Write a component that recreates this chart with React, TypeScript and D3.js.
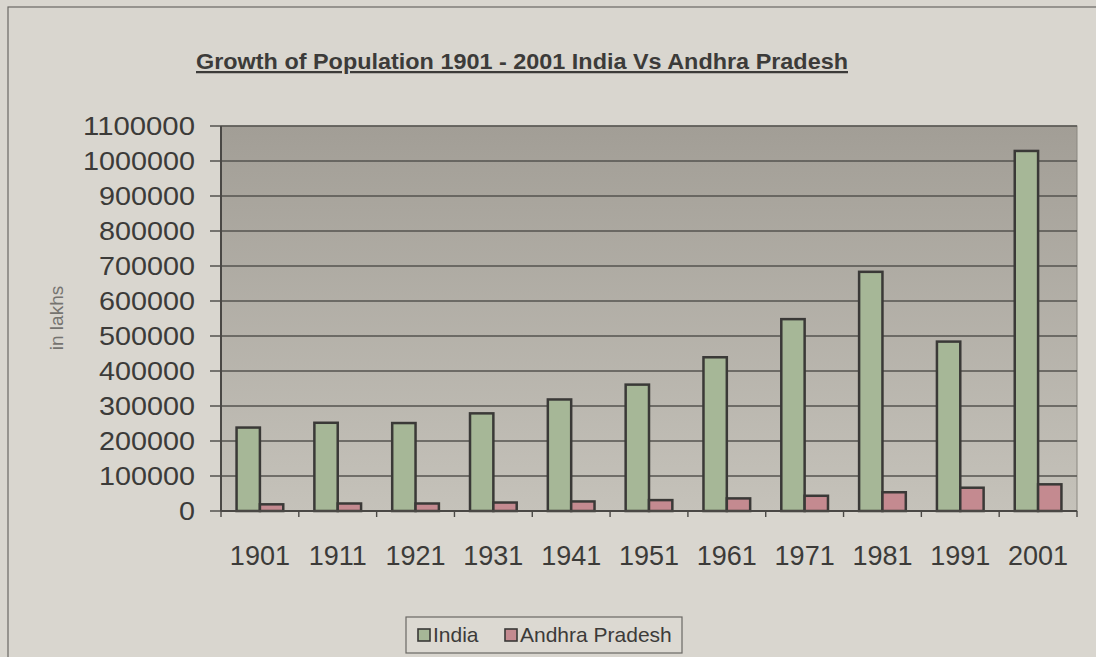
import React from "react";
import * as d3 from "d3";

const years = ["1901", "1911", "1921", "1931", "1941", "1951", "1961", "1971", "1981", "1991", "2001"];
const india = [238396, 252093, 251321, 278977, 318661, 361088, 439235, 548160, 683329, 484000, 1028737];
const andhra = [19066, 21448, 21421, 24204, 27289, 31115, 35983, 43503, 53550, 66508, 76210];
const seriesNames = ["India", "Andhra Pradesh"];
const yTicks = [0, 100000, 200000, 300000, 400000, 500000, 600000, 700000, 800000, 900000, 1000000, 1100000];
const titleText = "Growth of Population 1901 - 2001 India Vs Andhra Pradesh";
const yAxisTitle = "in lakhs";

const colors = ["#a6b797", "#c48a90"];

export default function App() {
  const W = 1096, H = 657;
  const left = 221, right = 1077, top = 126, bottom = 511;
  const x0 = d3.scaleBand<string>().domain(years).range([left, right]).paddingInner(0).paddingOuter(0);
  const bw = x0.bandwidth();
  const x1 = d3.scaleBand<string>().domain(seriesNames).range([bw * 0.2, bw * 0.8]);
  const y = d3.scaleLinear().domain([0, 1100000]).range([bottom, top]);
  const data = [india, andhra];
  const font = "'Liberation Sans', Arial, sans-serif";

  return (
    <svg width={W} height={H} style={{ position: "absolute", left: 0, top: 0 }} fontFamily={font}>
      <defs>
        <linearGradient id="plotbg" x1="0" y1="0" x2="0" y2="1">
          <stop offset="0%" stopColor="#a29e96" />
          <stop offset="100%" stopColor="#c5c2ba" />
        </linearGradient>
      </defs>
      <rect x={0} y={0} width={W} height={H} fill="#d9d6cf" />
      <rect x={8} y={7} width={W + 20} height={H + 20} fill="none" stroke="#6a6864" strokeWidth={1.2} />
      {/* title */}
      <text x={522} y={69} textAnchor="middle" fontSize={22.5} fontWeight="bold" fill="#3c3b39" textDecoration="underline"
        textLength={652} lengthAdjust="spacingAndGlyphs">
        {titleText}
      </text>
      {/* plot area */}
      <rect x={left} y={top} width={right - left} height={bottom - top} fill="url(#plotbg)" stroke="#8a8780" strokeWidth={1} />
      {yTicks.slice(1).map((t) => (
        <line key={"g" + t} x1={left} x2={right} y1={y(t)} y2={y(t)} stroke="#55534f" strokeWidth={1.4} />
      ))}
      {/* y axis */}
      <line x1={left} x2={left} y1={top} y2={bottom} stroke="#4a4845" strokeWidth={2} />
      {yTicks.map((t) => (
        <g key={"yt" + t}>
          <line x1={left - 11} x2={left} y1={y(t)} y2={y(t)} stroke="#4a4845" strokeWidth={1.4} />
          <text x={195} y={y(t)} dy="0.36em" textAnchor="end" fontSize={26} fill="#3c3b39"
            textLength={String(t).length * 16} lengthAdjust="spacingAndGlyphs">
            {t}
          </text>
        </g>
      ))}
      <text transform={`translate(63,${318}) rotate(-90)`} textAnchor="middle" fontSize={19} fill="#75736f">
        {yAxisTitle}
      </text>
      {/* bars */}
      {years.map((yr, i) => (
        <g key={yr} transform={`translate(${x0(yr)},0)`}>
          {seriesNames.map((s, k) => (
            <rect
              key={s}
              x={x1(s)}
              y={y(data[k][i])}
              width={x1.bandwidth()}
              height={bottom - y(data[k][i])}
              fill={colors[k]}
              stroke="#3a3937"
              strokeWidth={2.5}
            />
          ))}
        </g>
      ))}
      {/* x axis */}
      <line x1={left} x2={right} y1={bottom} y2={bottom} stroke="#4a4845" strokeWidth={2} />
      {years.map((yr) => (
        <line key={"xt" + yr} x1={x0(yr) as number} x2={x0(yr) as number} y1={bottom} y2={bottom + 6} stroke="#4a4845" strokeWidth={1.4} />
      ))}
      <line x1={right} x2={right} y1={bottom} y2={bottom + 6} stroke="#4a4845" strokeWidth={1.4} />
      {years.map((yr) => (
        <text key={"xl" + yr} x={(x0(yr) as number) + bw / 2} y={565} textAnchor="middle" fontSize={27} fill="#3c3b39">
          {yr}
        </text>
      ))}
      {/* legend */}
      <rect x={406} y={617} width={276} height={36} fill="#dcd9d2" stroke="#6a6864" strokeWidth={1.2} />
      {seriesNames.map((s, k) => {
        const lx = [418, 505][k];
        return (
          <g key={"lg" + s}>
            <rect x={lx} y={629} width={12} height={12} fill={colors[k]} stroke="#3a3937" strokeWidth={1.6} />
            <text x={lx + 15} y={642} fontSize={21} fill="#3c3b39">
              {s}
            </text>
          </g>
        );
      })}
    </svg>
  );
}
